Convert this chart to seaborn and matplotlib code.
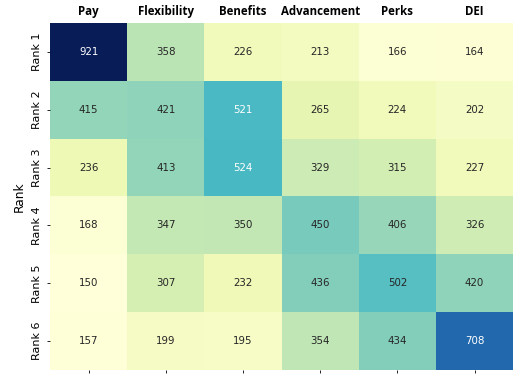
import numpy as np
import pandas as pd
import seaborn as sns
import matplotlib
matplotlib.use("Agg")
import matplotlib.pyplot as plt

factors = ["Pay", "Flexibility", "Benefits", "Advancement", "Perks", "DEI"]
ranks = ["Rank 1", "Rank 2", "Rank 3", "Rank 4", "Rank 5", "Rank 6"]
pay = [921, 415, 236, 168, 150, 157]
flexibility = [358, 421, 413, 347, 307, 199]
benefits = [226, 521, 524, 350, 232, 195]
advancement = [213, 265, 329, 450, 436, 354]
perks = [166, 224, 315, 406, 502, 434]
dei = [164, 202, 227, 326, 420, 708]

df = pd.DataFrame({"Pay": pay, "Flexibility": flexibility, "Benefits": benefits,
                   "Advancement": advancement, "Perks": perks, "DEI": dei},
                  index=ranks)

fig, ax = plt.subplots(figsize=(5.22, 3.8), dpi=100)
fig.subplots_adjust(left=0.096, right=0.983, top=0.94, bottom=0.026)
sns.heatmap(df, annot=True, fmt="d", cmap="YlGnBu", cbar=False, ax=ax,
            annot_kws={"fontsize": 7.4})
ax.set_xticklabels([])
ax.tick_params(axis="both", labelsize=8, length=2.5, width=0.6)
ax.set_ylabel("Rank", fontsize=8.8)
ax.set_xlabel("")
for i, name in enumerate(factors):
    ax.text(i + 0.5, -0.14, name, ha="center", va="baseline",
            fontsize=8.3, fontweight="bold", family="Open Sans")

fig.savefig("out.png", dpi=100)
